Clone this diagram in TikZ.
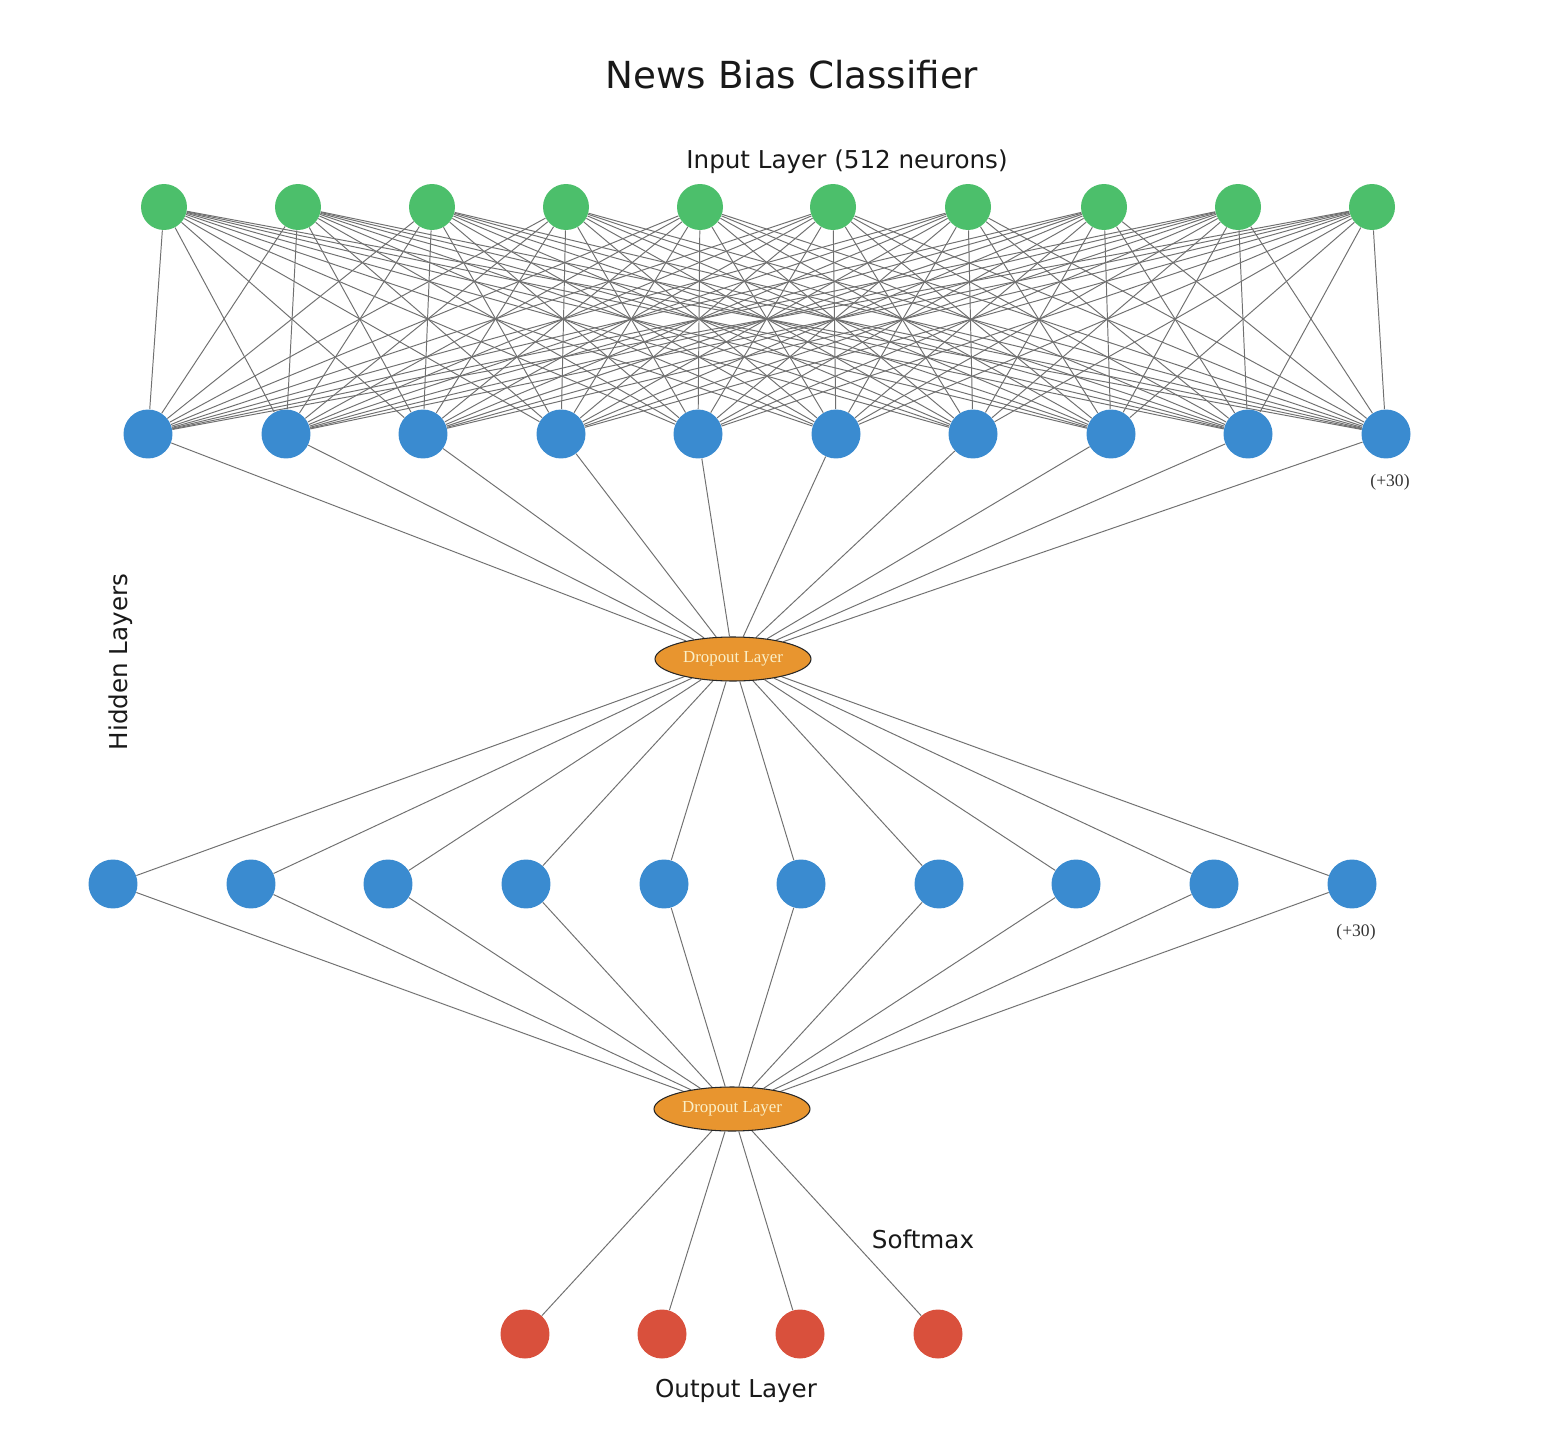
\documentclass[tikz,border=0pt]{standalone}
\usepackage{fontspec}
\setmainfont{DejaVu Sans}
\newfontfamily\timesfont{Liberation Serif}
\usetikzlibrary{shapes.geometric,backgrounds}
\definecolor{ingreen}{HTML}{4CBF6B}
\definecolor{hidblue}{HTML}{3A8BD0}
\definecolor{outred}{HTML}{D9503C}
\definecolor{dropor}{HTML}{E8952F}
\definecolor{droptxt}{HTML}{FBF0C8}
\definecolor{edgegray}{HTML}{707070}
\tikzset{
  inneuron/.style={circle,fill=ingreen,draw=none,inner sep=0pt,minimum size=0.92cm},
  hidneuron/.style={circle,fill=hidblue,draw=none,inner sep=0pt,minimum size=0.98cm},
  outneuron/.style={circle,fill=outred,draw=none,inner sep=0pt,minimum size=0.98cm},
  dropnode/.style={ellipse,fill=dropor,draw=black!85,line width=0.6pt,inner sep=0pt,minimum width=3.12cm,minimum height=0.88cm,font=\timesfont\fontsize{9.6}{11}\selectfont,text=droptxt},
  conn/.style={draw=edgegray,line width=0.55pt},
  lbl/.style={font=\fontsize{14}{16}\selectfont,text=black!90},
  extra/.style={font=\timesfont\fontsize{10}{11}\selectfont,text=black!80}
}
\begin{document}
\begin{tikzpicture}[x=0.02cm,y=-0.02cm]
\useasboundingbox (0,0) rectangle (1546,1446);
% title and labels
\node[font=\fontsize{21.2}{24}\selectfont,text=black!90] (title) at (792,75) {News Bias Classifier};
\node[lbl] (inlbl) at (847,162) {Input Layer (512 neurons)};
\node[lbl,rotate=90] (hidlbl) at (121,662) {Hidden Layers};
\node[lbl] (smlbl) at (923,1239) {Softmax};
\node[lbl] (outlbl) at (736,1391) {Output Layer};
% input layer
\foreach \i/\x in {1/164,2/298,3/432,4/566,5/700,6/833,7/968,8/1104,9/1238,10/1372}
  \node[inneuron] (in\i) at (\x,207) {};
% hidden layer 1
\foreach \i/\x in {1/148,2/286,3/423,4/561,5/698,6/836,7/973,8/1111,9/1248,10/1386}
  \node[hidneuron] (ha\i) at (\x,434) {};
\node[extra] (hamore) at (1390,482) {(+30)};
% dropout 1
\node[dropnode] (dropa) at (733,659) {Dropout Layer};
% hidden layer 2
\foreach \i/\x in {1/113,2/251,3/388,4/526,5/664,6/801,7/939,8/1076,9/1214,10/1352}
  \node[hidneuron] (hb\i) at (\x,884) {};
\node[extra] (hbmore) at (1356,932) {(+30)};
% dropout 2
\node[dropnode] (dropb) at (732,1109) {Dropout Layer};
% output
\foreach \i/\x in {1/525,2/662,3/800,4/938}
  \node[outneuron] (out\i) at (\x,1334) {};
% connections
\begin{scope}[on background layer]
\fill[white] (0,0) rectangle (1546,1446);
\foreach \i in {1,...,10}{
  \foreach \j in {1,...,10}{
    \draw[conn] (in\i) -- (ha\j);
  }
  \draw[conn] (ha\i) -- (dropa);
  \draw[conn] (dropa) -- (hb\i);
  \draw[conn] (hb\i) -- (dropb);
}
\foreach \i in {1,...,4}
  \draw[conn] (dropb) -- (out\i);
\end{scope}
\end{tikzpicture}
\end{document}
